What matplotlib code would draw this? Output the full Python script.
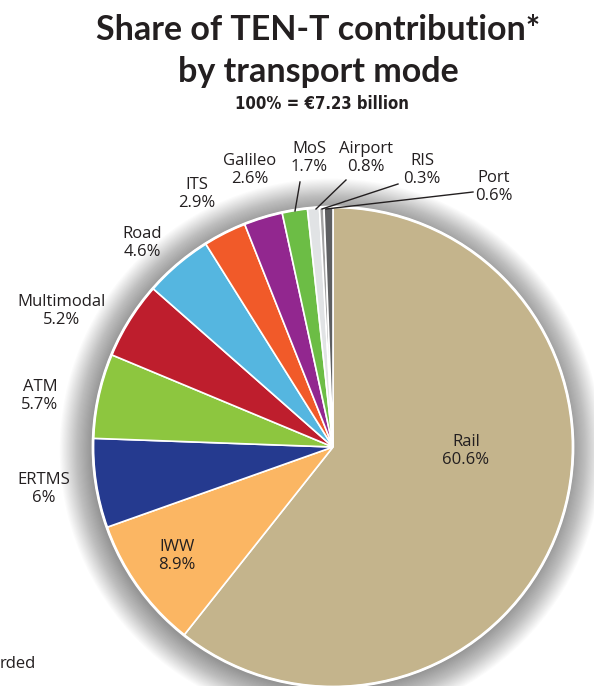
import matplotlib
matplotlib.use("Agg")
import matplotlib.pyplot as plt
from matplotlib.patches import Circle

categories = ["Rail", "IWW", "ERTMS", "ATM", "Multimodal", "Road", "ITS",
              "Galileo", "MoS", "Airport", "RIS", "Port"]
shares = [60.6, 8.9, 6.0, 5.7, 5.2, 4.6, 2.9, 2.6, 1.7, 0.8, 0.3, 0.6]
share_labels = ["60.6%", "8.9%", "6%", "5.7%", "5.2%", "4.6%", "2.9%",
                "2.6%", "1.7%", "0.8%", "0.3%", "0.6%"]
colors = ["#c4b48c", "#fbb663", "#253a8f", "#8dc63f", "#be1e2d", "#55b6e0",
          "#f15a29", "#92278f", "#6cbd45", "#e1e3e5", "#a3a3a3", "#5e5f61"]

W, H = 594, 686
fig = plt.figure(figsize=(W / 100, H / 100), dpi=100)
fig.patch.set_facecolor("white")

FONT = ["Open Sans", "DejaVu Sans"]

def px(x, y):
    return x / W, 1 - y / H

# pie axes: center (333, 447), radius 240 px
cx, cy, r = 333, 447, 240
ax = fig.add_axes([(cx - r) / W, (H - cy - r) / H, 2 * r / W, 2 * r / H])
ax.axis("off")

# soft shadow
for i in range(30):
    ax.add_patch(Circle((-0.008, -0.012), 1.0 + 0.0045 * i, facecolor="black",
                        alpha=0.016, edgecolor="none", clip_on=False, zorder=0))
ax.add_patch(Circle((0, 0), 1.0, facecolor="none", edgecolor="white", lw=2.0,
                    clip_on=False, zorder=3))

wedges, _ = ax.pie(shares, colors=colors, startangle=90, counterclock=False,
                   radius=1.0, wedgeprops=dict(edgecolor="white", linewidth=1.2),
                   frame=False)
for w in wedges:
    w.set_clip_on(False)
    w.set_zorder(2)
ax.set_xlim(-1, 1)
ax.set_ylim(-1, 1)
ax.set_aspect("equal")

# labels (pixel positions of text centers)
label_pos = {
    "Rail": (466, 451), "IWW": (177, 556), "ERTMS": (44, 489), "ATM": (40, 396),
    "Multimodal": (62, 311), "Road": (142, 243), "ITS": (197, 194),
    "Galileo": (250, 170), "MoS": (309, 158), "Airport": (366, 158),
    "RIS": (422, 170), "Port": (494, 187),
}
for cat, lab in zip(categories, share_labels):
    x, y = label_pos[cat]
    fig.text(*px(x, y), f"{cat}\n{lab}", ha="center", va="center",
             fontsize=12, family=FONT, color="#231f20", linespacing=1.1)

# leader lines (pixel coords)
leaders = [((300, 182), (295, 211)), ((346, 180), (316, 209)),
           ((398, 184), (322, 209)), ((473, 192), (326, 209))]
for (x0, y0), (x1, y1) in leaders:
    fig.add_artist(plt.Line2D([x0 / W, x1 / W], [1 - y0 / H, 1 - y1 / H],
                              color="#231f20", lw=1.0, zorder=5))

fig.text(*px(318, 30), "Share of TEN-T contribution*", ha="center", va="center",
         fontsize=24.5, fontweight="bold", family=["Lato", "DejaVu Sans"], color="#231f20")
fig.text(*px(318, 72), "by transport mode", ha="center", va="center",
         fontsize=24.5, fontweight="bold", family=["Lato", "DejaVu Sans"], color="#231f20")
fig.text(*px(322, 104), "100% = €7.23 billion", ha="center", va="center",
         fontsize=12, fontweight="bold", fontstretch="condensed",
         family=["DejaVu Sans"], color="#231f20")
fig.text(*px(0, 664), "rded", ha="left", va="center",
         fontsize=12, family=FONT, color="#231f20")

fig.savefig("out.png", dpi=100)
